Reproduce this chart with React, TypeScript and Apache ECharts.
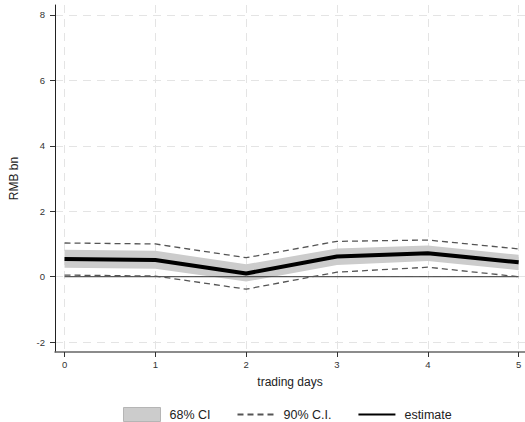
import React, { useEffect, useRef } from "react";
import * as echarts from "echarts";

const days = [0, 1, 2, 3, 4, 5];
const estimate = [0.54, 0.51, 0.1, 0.62, 0.72, 0.44];
const ci68Lower = [0.27, 0.24, -0.15, 0.36, 0.48, 0.2];
const ci68Upper = [0.82, 0.79, 0.38, 0.86, 0.95, 0.67];
const ci90Lower = [0.05, 0.02, -0.38, 0.14, 0.29, 0.0];
const ci90Upper = [1.03, 1.0, 0.58, 1.08, 1.12, 0.85];
const xTicks = [0, 1, 2, 3, 4, 5];
const yTicks = [-2, 0, 2, 4, 6, 8];
const zeroLine = [0, 0, 0, 0, 0, 0];

const FONT = "Liberation Sans, Arial, Helvetica, sans-serif";

export default function App() {
  const ref = useRef<HTMLDivElement>(null);
  useEffect(() => {
    if (!ref.current) return;
    const chart = echarts.init(ref.current, null, { renderer: "svg" });
    const pairs = (ys: number[]) => days.map((d, i) => [d, ys[i]]);
    const gridLine = { show: true, lineStyle: { color: "#e4e4e4", type: [8, 6] as any, width: 1 } };
    const bandData = days.map((d, i) => [d, ci68Lower[i], ci68Upper[i]]);
    chart.setOption({
      animation: false,
      textStyle: { fontFamily: FONT },
      grid: { left: 50, right: 0, top: 5, bottom: 70, containLabel: false },
      xAxis: {
        type: "value",
        min: -0.105,
        max: 5.07,
        name: "trading days",
        nameLocation: "middle",
        nameGap: 24,
        nameTextStyle: { fontSize: 12, color: "#222", fontFamily: FONT },
        axisLine: { show: true, onZero: false, lineStyle: { color: "#666", width: 1.5 } },
        axisTick: { show: true, length: 5, customValues: xTicks, lineStyle: { color: "#333" } },
        axisLabel: { customValues: xTicks, fontSize: 9.5, color: "#333", margin: 7, fontFamily: FONT },
        splitLine: gridLine,
      },
      yAxis: {
        type: "value",
        min: -2.3,
        max: 8.3,
        name: "RMB bn",
        nameLocation: "middle",
        nameGap: 35,
        nameRotate: 90,
        nameTextStyle: { fontSize: 12, color: "#222", fontFamily: FONT },
        axisLine: { show: true, onZero: false, lineStyle: { color: "#222", width: 1 } },
        axisTick: { show: true, length: 5, customValues: yTicks, lineStyle: { color: "#333" } },
        axisLabel: { customValues: yTicks, fontSize: 9.5, color: "#333", margin: 10, fontFamily: FONT },
        splitLine: gridLine,
      },
      legend: {
        left: 118,
        top: 402,
        itemWidth: 37,
        itemHeight: 14,
        itemGap: 26,
        textStyle: { fontSize: 12.5, color: "#222", fontFamily: FONT, padding: [0, 0, 0, 4] },
        data: [
          { name: "68% CI", icon: "rect", itemStyle: { color: "#cccccc", borderColor: "#b5b5b5", borderWidth: 1 } },
          { name: "90% C.I.", itemStyle: { opacity: 0 } },
          { name: "estimate", itemStyle: { opacity: 0 } },
        ],
      },
      series: [
        {
          name: "68% CI",
          type: "custom",
          data: bandData,
          encode: { x: 0, y: [1, 2] },
          itemStyle: { color: "#cccccc" },
          silent: true,
          z: 1,
          renderItem: (params: any, api: any) => {
            if (params.dataIndex !== 0) return null;
            const top = bandData.map((r) => api.coord([r[0], r[2]]));
            const bot = bandData.map((r) => api.coord([r[0], r[1]])).reverse();
            return {
              type: "polygon",
              shape: { points: top.concat(bot) },
              style: { fill: "#cccccc", stroke: "none" },
            };
          },
        },
        {
          name: "zero",
          type: "line",
          data: pairs(zeroLine),
          symbol: "none",
          lineStyle: { color: "#333", width: 1 },
          z: 2,
        },
        {
          name: "90% C.I.",
          type: "line",
          data: pairs(ci90Upper),
          symbol: "none",
          itemStyle: { color: "#555" },
          lineStyle: { color: "#555", width: 1.3, type: [6, 4] },
          z: 3,
        },
        {
          name: "90% C.I.",
          type: "line",
          data: pairs(ci90Lower),
          symbol: "none",
          itemStyle: { color: "#555" },
          lineStyle: { color: "#555", width: 1.3, type: [6, 4] },
          z: 3,
        },
        {
          name: "estimate",
          type: "line",
          data: pairs(estimate),
          symbol: "none",
          itemStyle: { color: "#000" },
          lineStyle: { color: "#000", width: 4 },
          z: 4,
        },
      ],
    });
    return () => chart.dispose();
  }, []);
  return <div ref={ref} style={{ width: 525, height: 422, position: "absolute", left: 0, top: 0 }} />;
}
